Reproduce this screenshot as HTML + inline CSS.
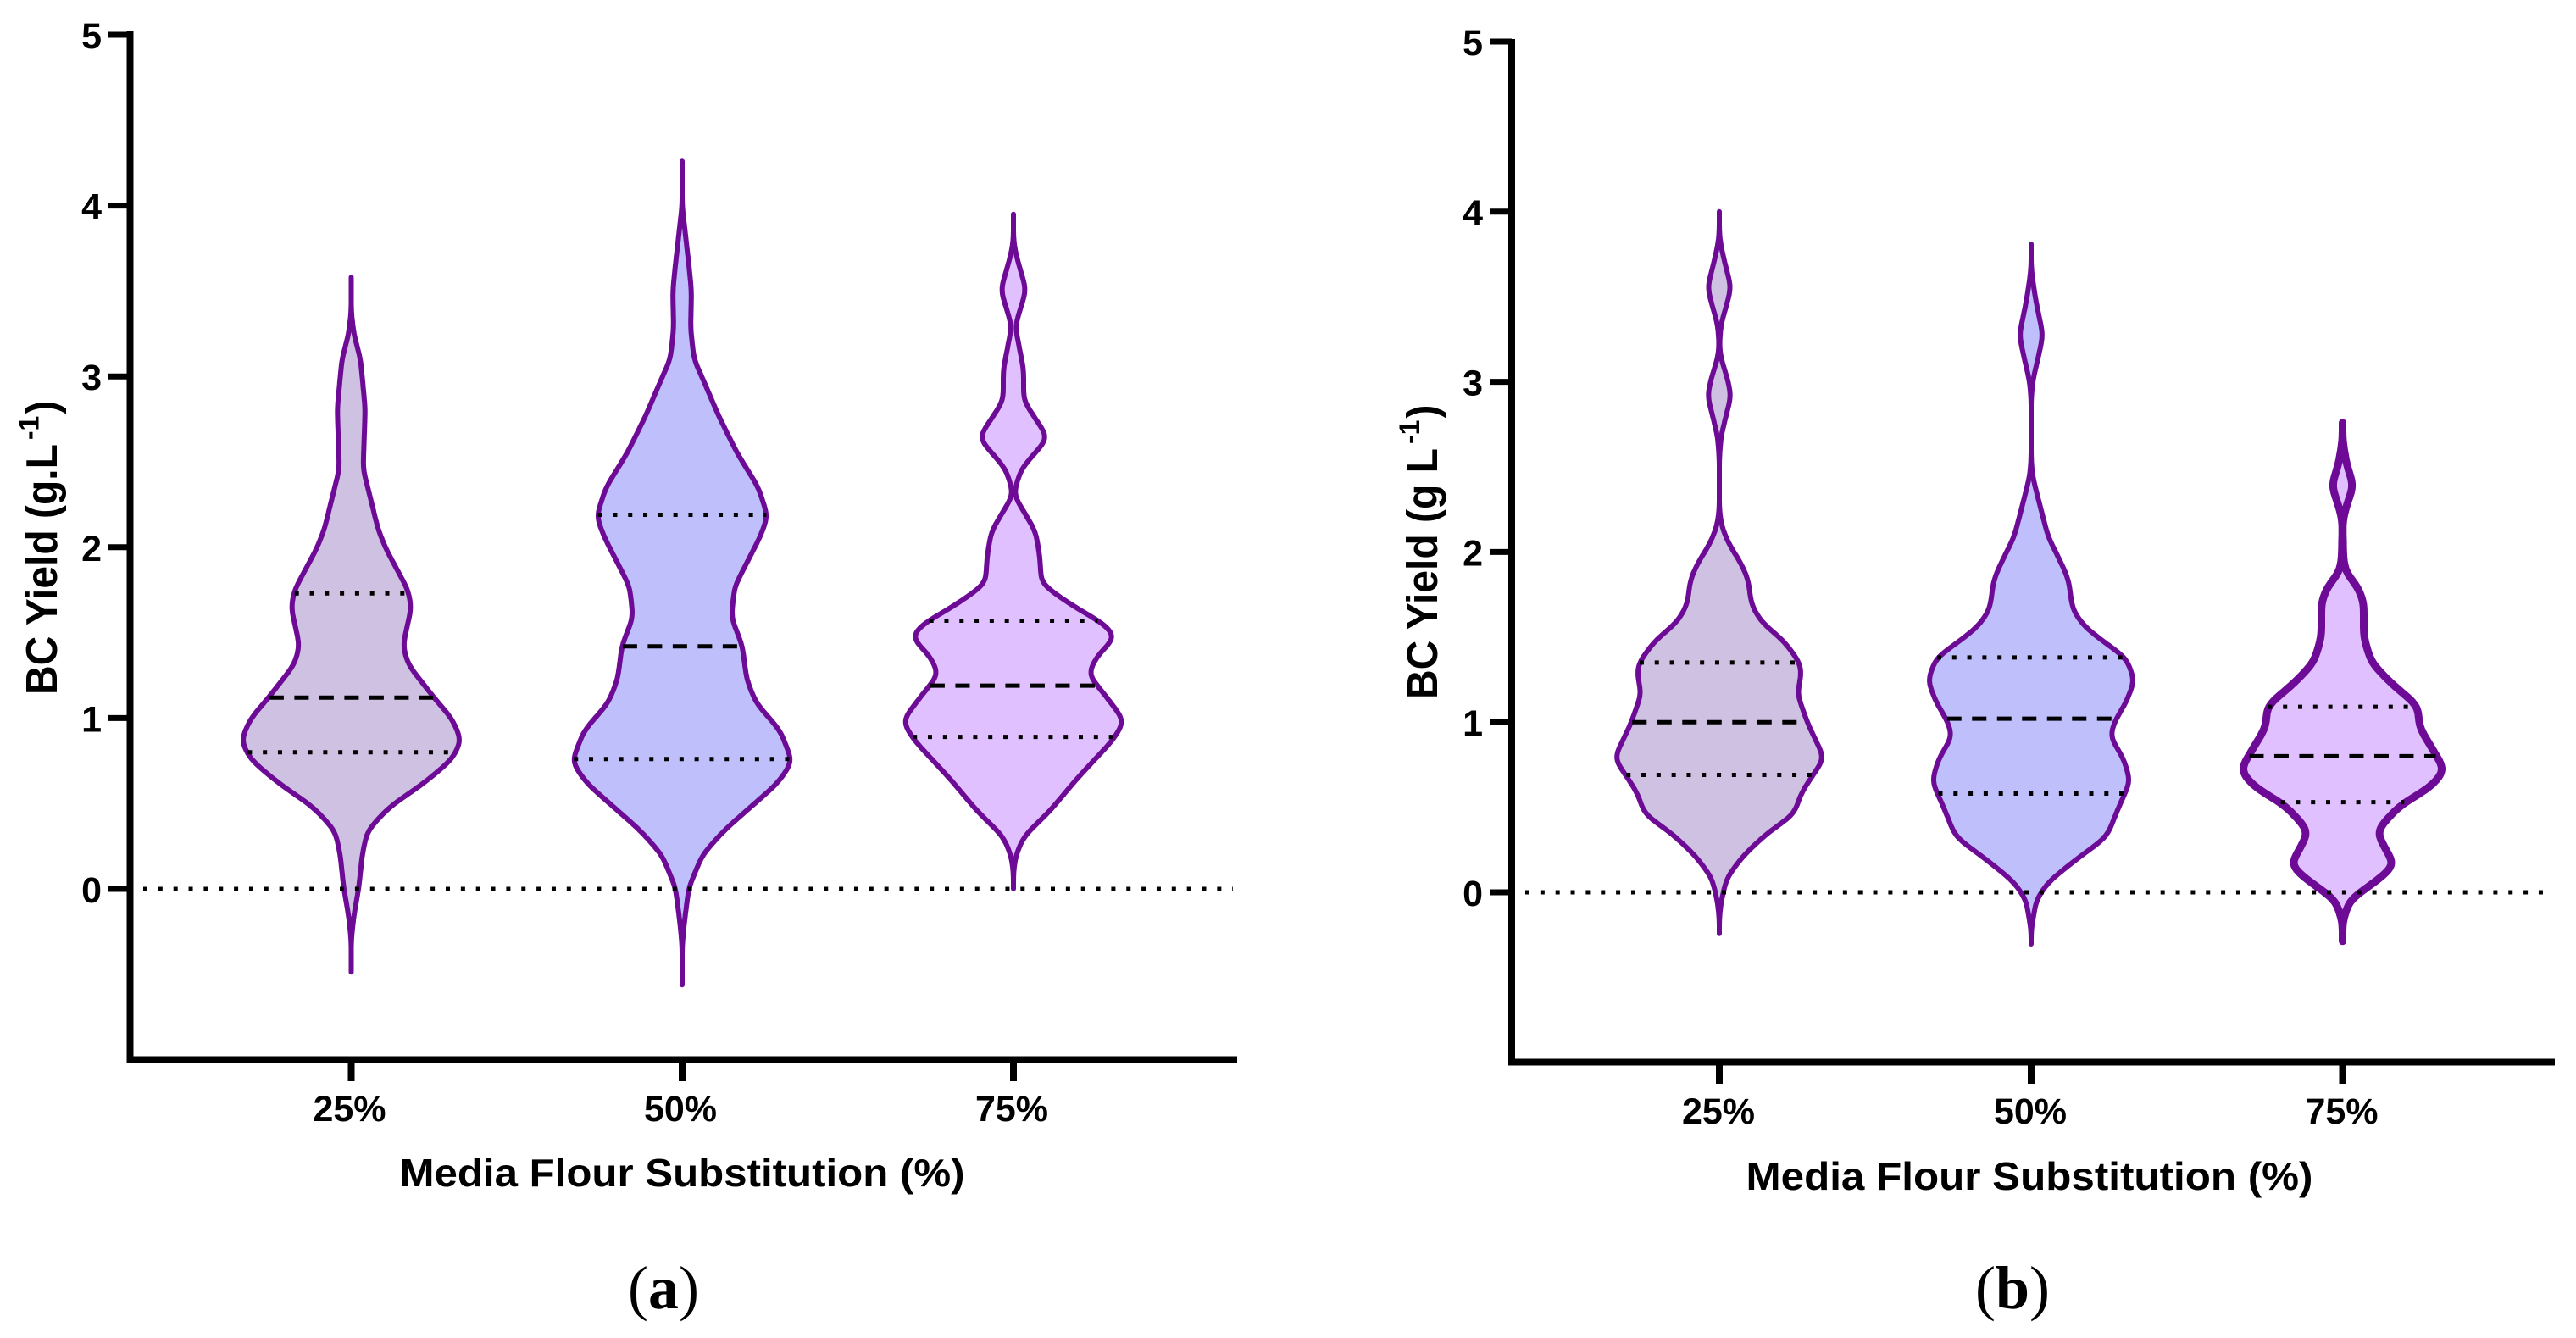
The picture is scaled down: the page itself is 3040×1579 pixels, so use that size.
<!DOCTYPE html>
<html lang="en">
<head>
<meta charset="utf-8">
<title>BC Yield violin plots</title>
<style>
html,body{margin:0;padding:0;background:#fff;}
svg{display:block;}
text{font-family:"Liberation Sans",sans-serif;fill:#000;}
.tick{font-weight:bold;font-size:43px;}
.axt{font-weight:bold;font-size:46px;}
.ayt{font-weight:bold;font-size:48px;}
.cap{font-family:"Liberation Serif",serif;font-size:72px;}
</style>
</head>
<body>
<svg id="chart" xmlns="http://www.w3.org/2000/svg" width="3040" height="1579" viewBox="0 0 3040 1579">
  <rect width="3040" height="1579" fill="#fff"/>
  <text class="axt" x="805" y="1400" text-anchor="middle" textLength="667" lengthAdjust="spacingAndGlyphs">Media Flour Substitution (%)</text>
  <text class="axt" x="2395" y="1404" text-anchor="middle" textLength="669" lengthAdjust="spacingAndGlyphs">Media Flour Substitution (%)</text>
  <text class="ayt" transform="translate(67,820) rotate(-90) scale(1,1.08)">BC Yield (g.L<tspan font-size="32" dy="-20" dx="5">-1</tspan><tspan dy="20" dx="2">)</tspan></text>
  <text class="ayt" transform="translate(1696,825) rotate(-90) scale(1,1.06)">BC Yield (g L<tspan font-size="32" dy="-20" dx="5">-1</tspan><tspan dy="20" dx="2">)</tspan></text>
  <text class="cap" x="783" y="1544" text-anchor="middle">(<tspan font-weight="bold">a</tspan>)</text>
  <text class="cap" x="2375" y="1544" text-anchor="middle">(<tspan font-weight="bold">b</tspan>)</text>
</svg>
<script>
// Shared axis data
const yTickValues = [0, 1, 2, 3, 4, 5];
const categories = ['25%', '50%', '75%'];

// Panel (a): yield levels (g/L) and violin half-width (density, a.u.) at each level
const a25Levels = [3.58, 3.38, 3.25, 3.10, 2.81, 2.457, 2.32, 2.10, 1.99, 1.75, 1.648, 1.425, 1.314, 1.12, 0.996, 0.87, 0.758, 0.62, 0.48, 0.34, 0.2, 0.01, -0.159, -0.3, -0.49];
const a25Density = [0, 0, 3, 11, 16.5, 14, 21, 32, 41, 67, 71, 61, 67, 97.6, 119, 130, 119, 86, 45, 19, 13, 9, 3, 0, 0];
const a50Levels = [4.26, 4.0, 3.87, 3.65, 3.5, 3.28, 3.1, 2.99, 2.77, 2.55, 2.35, 2.18, 2.06, 1.925, 1.77, 1.59, 1.425, 1.23, 1.09, 0.925, 0.744, 0.62, 0.48, 0.34, 0.2, 0.01, -0.18, -0.33, -0.57];
const a50Density = [0, 0, 3, 8, 11, 10, 14, 24, 43, 65, 90, 101, 92, 78, 62, 58, 71, 76, 87, 116, 130, 113, 81, 49, 24, 8, 3, 0, 0];
const a75Levels = [3.95, 3.8, 3.713, 3.506, 3.295, 3.04, 2.858, 2.64, 2.458, 2.31, 2.094, 1.95, 1.785, 1.657, 1.548, 1.475, 1.366, 1.257, 1.148, 0.984, 0.875, 0.64, 0.456, 0.31, 0.2, 0.1, 0];
const a75Density = [0, 0, 3, 15, 2, 12, 12, 41, 9, 0, 26, 31, 33, 70, 108, 121, 99, 88, 106, 131, 118, 74, 43, 12.6, 3, 0, 0];
const aMedians = [1.12, 1.42, 1.19];
const aUpperQuartiles = [1.73, 2.19, 1.57];
const aLowerQuartiles = [0.80, 0.76, 0.89];

// Panel (b)
const b25Levels = [4.0, 3.87, 3.796, 3.67, 3.555, 3.44, 3.34, 3.21, 3.137, 3.03, 2.92, 2.80, 2.68, 2.55, 2.246, 2.146, 2.04, 1.94, 1.84, 1.688, 1.585, 1.484, 1.351, 1.285, 1.167, 0.996, 0.787, 0.692, 0.587, 0.456, 0.35, 0.219, 0.087, -0.045, -0.15, -0.25];
const b25Density = [0, 0, 2, 8, 14, 8, 2, 0, 2, 9, 14, 8, 2, 0, 0, 3, 12, 25, 34, 38, 50, 75, 95, 97, 92, 104, 124, 111, 97, 88, 57, 29, 9, 2.5, 0, 0];
const b50Levels = [3.81, 3.68, 3.59, 3.465, 3.275, 3.135, 3.01, 2.9, 2.55, 2.45, 2.32, 2.09, 1.94, 1.84, 1.66, 1.56, 1.46, 1.38, 1.245, 1.115, 1.01, 0.916, 0.787, 0.652, 0.508, 0.324, 0.193, 0.06, -0.045, -0.15, -0.22, -0.31];
const b50Density = [0, 0, 2, 6, 14, 8, 2, 0, 0, 1.5, 8, 20, 35, 44, 49, 63, 89, 112, 122, 112, 99, 93, 109, 117, 104, 89, 53, 20, 6, 2.5, 0, 0];
const b75Levels = [2.76, 2.66, 2.52, 2.39, 2.27, 2.18, 1.95, 1.87, 1.81, 1.707, 1.5, 1.35, 1.225, 1.097, 0.97, 0.868, 0.716, 0.614, 0.513, 0.36, 0.259, 0.158, 0.055, -0.045, -0.108, -0.17, -0.295];
const b75Density = [0, 0, 4.5, 13, 4.5, 0, 1, 4.5, 16.5, 25, 25, 34, 58, 89, 90.5, 103, 121, 103, 68, 40, 50, 62, 37, 8, 4.5, 0, 0];
const bMedians = [1.0, 1.02, 0.80];
const bUpperQuartiles = [1.35, 1.38, 1.09];
const bLowerQuartiles = [0.69, 0.58, 0.53];

const violinFills = ['#cfc1e1', '#bfbffc', '#e0c0fe'];
const strokeColor = '#6d0b96';
const svgNS = 'http://www.w3.org/2000/svg';
const svg = document.getElementById('chart');

const panels = [
  {id: 'a', y0: 1049, unit: 201.6, axisX: 153.5, axisY: 1250.5, axisEnd: 1460, axisTop: 37,
   tickLeft: 127, tickBottom: 1276, labelRight: 120, labelBase: 1323, zeroStart: 169, zeroEnd: 1455,
   centers: [414.5, 805, 1196], strokes: [6, 6, 6], labelDX: -2,
   levels: [a25Levels, a50Levels, a75Levels], density: [a25Density, a50Density, a75Density],
   medians: aMedians, upper: aUpperQuartiles, lower: aLowerQuartiles},
  {id: 'b', y0: 1053, unit: 200.8, axisX: 1784, axisY: 1253.5, axisEnd: 3015, axisTop: 46,
   tickLeft: 1758, tickBottom: 1279, labelRight: 1750, labelBase: 1326, zeroStart: 1800, zeroEnd: 3001,
   centers: [2029, 2397, 2764.5], strokes: [6, 6, 9], labelDX: -1,
   levels: [b25Levels, b50Levels, b75Levels], density: [b25Density, b50Density, b75Density],
   medians: bMedians, upper: bUpperQuartiles, lower: bLowerQuartiles}
];

function draw(tag, attrs, parent) {
  const el = document.createElementNS(svgNS, tag);
  for (const k in attrs) el.setAttribute(k, attrs[k]);
  (parent || svg).appendChild(el);
  return el;
}

function densityAt(levels, density, value) {
  for (let i = 0; i < levels.length - 1; i++) {
    if (value <= levels[i] && value >= levels[i + 1]) {
      const f = (value - levels[i]) / (levels[i + 1] - levels[i]);
      return density[i] + f * (density[i + 1] - density[i]);
    }
  }
  return 0;
}

// Resample the profile on a uniform pixel grid and smooth it like a kernel density curve
function smoothProfile(levels, density, yScale) {
  const top = yScale(levels[0]), bottom = yScale(levels[levels.length - 1]);
  const step = 2;
  const ys = [], ws = [];
  for (let py = top; py <= bottom; py += step) {
    const v = levels[0] + (levels[levels.length - 1] - levels[0]) * (py - top) / (bottom - top);
    ys.push(py);
    ws.push(densityAt(levels, density, v));
  }
  let cur = ws;
  for (let pass = 0; pass < 3; pass++) {
    const next = cur.slice();
    for (let i = 0; i < cur.length; i++) {
      let sum = 0, count = 0;
      for (let k = -3; k <= 3; k++) {
        const j = i + k;
        if (j >= 0 && j < cur.length) { sum += cur[j]; count++; }
      }
      next[i] = sum / count;
    }
    cur = next;
  }
  return ys.map((py, i) => [py, cur[i]]);
}

panels.forEach(function (p) {
  const yScale = v => p.y0 - p.unit * v;
  const widthScale = d => d * 1;
  const g = draw('g', {});
  
  

  categories.forEach(function (cat, i) {
    const cx = p.centers[i];
    const pts = smoothProfile(p.levels[i], p.density[i], yScale);
    const right = pts.map(q => (cx + widthScale(q[1])).toFixed(1) + ',' + q[0].toFixed(1));
    const left = pts.slice().reverse().map(q => (cx - widthScale(q[1])).toFixed(1) + ',' + q[0].toFixed(1));
    const violin = draw('path', {
      d: 'M' + right.concat(left).join('L') + 'Z',
      fill: violinFills[i], stroke: strokeColor,
      'stroke-width': p.strokes[i], 'stroke-linejoin': 'round'
    }, g);
    
    

    const lines = [[p.upper[i], 'upper-quartile', '5 12.8'], [p.medians[i], 'median', '17 12.5'], [p.lower[i], 'lower-quartile', '5 12.8']];
    lines.forEach(function (ln) {
      const hw = widthScale(densityAt(p.levels[i], p.density[i], ln[0])) - 1;
      const mark = draw('line', {
        x1: cx - hw, x2: cx + hw, y1: yScale(ln[0]), y2: yScale(ln[0]),
        stroke: '#000', 'stroke-width': 5, 'stroke-dasharray': ln[2]
      }, g);
      
      
    });
  });

  const zero = draw('line', {
    x1: p.zeroStart, x2: p.zeroEnd, y1: yScale(0), y2: yScale(0),
    stroke: '#000', 'stroke-width': 5, 'stroke-dasharray': '5 12.85'
  }, g);
  
  

  // Axes
  const yAxis = draw('line', {x1: p.axisX, x2: p.axisX, y1: p.axisTop, y2: p.axisY + 4, stroke: '#000', 'stroke-width': 8}, g);
  
  
  const xAxis = draw('line', {x1: p.axisX - 4, x2: p.axisEnd, y1: p.axisY, y2: p.axisY, stroke: '#000', 'stroke-width': 8}, g);
  
  

  yTickValues.forEach(function (v) {
    const tick = draw('line', {x1: p.tickLeft, x2: p.axisX, y1: yScale(v), y2: yScale(v), stroke: '#000', 'stroke-width': 7}, g);
    
    
    const lab = draw('text', {x: p.labelRight, y: yScale(v) + 16, 'text-anchor': 'end', class: 'tick'}, g);
    lab.textContent = String(v);
    
    
  });

  categories.forEach(function (cat, i) {
    const cx = p.centers[i];
    const tick = draw('line', {x1: cx, x2: cx, y1: p.axisY, y2: p.tickBottom, stroke: '#000', 'stroke-width': 8}, g);
    
    
    const lab = draw('text', {x: cx + p.labelDX, y: p.labelBase, 'text-anchor': 'middle', class: 'tick'}, g);
    lab.textContent = cat;
    
    
  });
});
</script>
</body>
</html>
